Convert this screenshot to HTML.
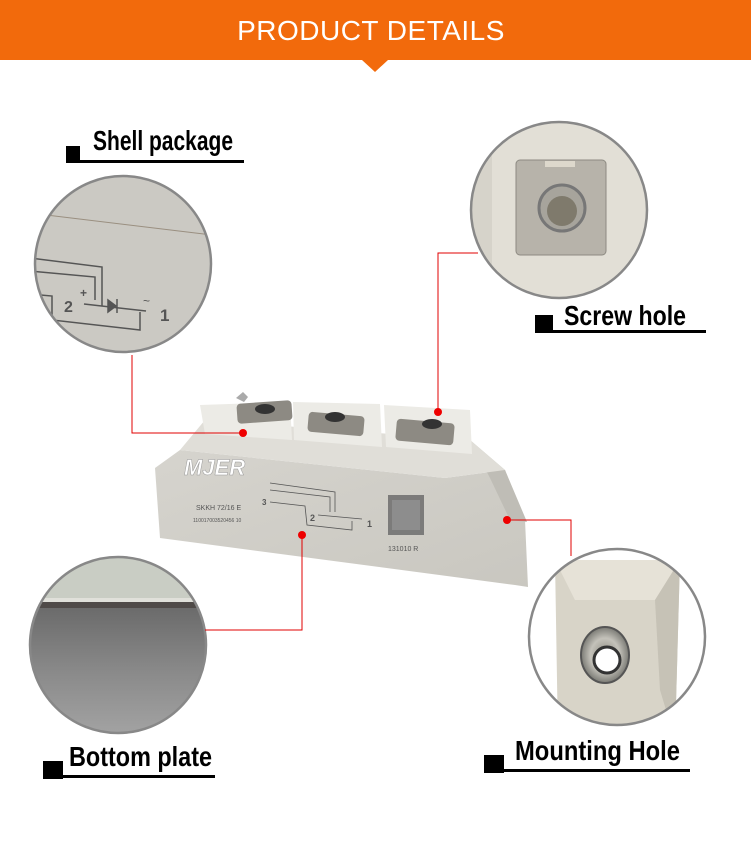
<!DOCTYPE html>
<html><head><meta charset="utf-8"><style>
html,body{margin:0;padding:0;background:#fff;width:751px;height:846px;overflow:hidden}
svg{display:block}
.lb{font-family:"Liberation Sans",sans-serif;font-weight:bold;font-size:28px;fill:#000}
</style></head><body>
<svg width="751" height="846" viewBox="0 0 751 846" xmlns="http://www.w3.org/2000/svg">
<defs>
<linearGradient id="metal" x1="0" y1="0" x2="0" y2="1"><stop offset="0" stop-color="#6b6b6b"/><stop offset="0.5" stop-color="#8a8a8a"/><stop offset="1" stop-color="#a4a4a4"/></linearGradient>
<linearGradient id="face" x1="0" y1="0" x2="1" y2="1"><stop offset="0" stop-color="#d6d4ce"/><stop offset="1" stop-color="#c9c7c0"/></linearGradient>
<radialGradient id="nut" cx="0.5" cy="0.5" r="0.5"><stop offset="0" stop-color="#8c8a80"/><stop offset="0.6" stop-color="#c4c2ba"/><stop offset="1" stop-color="#7a7a74"/></radialGradient>
<clipPath id="c1"><circle cx="123" cy="264" r="88"/></clipPath>
<clipPath id="c2"><circle cx="559" cy="210" r="88"/></clipPath>
<clipPath id="c3"><circle cx="118" cy="645" r="88"/></clipPath>
<clipPath id="c4"><circle cx="617" cy="637" r="88"/></clipPath>
</defs>
<rect x="0" y="0" width="751" height="60" fill="#f26a0c"/>
<polygon points="362,60 388,60 375,72" fill="#f26a0c"/>
<text x="371" y="40" text-anchor="middle" font-family="Liberation Sans,sans-serif" font-size="28" fill="#fff" letter-spacing="0.5">PRODUCT  DETAILS</text>

<g clip-path="url(#c1)">
<rect x="30" y="170" width="190" height="190" fill="#cbc9c3"/>
<line x1="30" y1="213" x2="220" y2="236" stroke="#9a8f80" stroke-width="1"/>
<g stroke="#555" stroke-width="1.5" fill="none">
<polyline points="30,258 102,267 102,306"/>
<polyline points="30,271 95,277 95,300"/>
<polyline points="30,294 52,296 52,320 140,330 140,312"/>
<line x1="84" y1="304" x2="146" y2="311"/>
<polygon points="108,300 108,312 116,306" fill="#555"/>
<line x1="117" y1="299" x2="117" y2="313"/>
</g>
<text x="64" y="312" font-family="Liberation Sans,sans-serif" font-weight="bold" font-size="16" fill="#555">2</text>
<text x="80" y="297" font-family="Liberation Sans,sans-serif" font-weight="bold" font-size="12" fill="#555">+</text>
<text x="143" y="305" font-family="Liberation Sans,sans-serif" font-size="12" fill="#555">~</text>
<text x="160" y="321" font-family="Liberation Sans,sans-serif" font-weight="bold" font-size="17" fill="#555">1</text>
</g>
<circle cx="123" cy="264" r="88" fill="none" stroke="#888" stroke-width="2.5"/>

<g clip-path="url(#c2)">
<rect x="460" y="110" width="200" height="200" fill="#e2dfd6"/>
<rect x="472" y="120" width="20" height="200" fill="#d6d3ca"/>
<rect x="516" y="160" width="90" height="95" rx="4" fill="#b7b3aa" stroke="#8d8a82"/>
<rect x="545" y="161" width="30" height="6" fill="#ddd8cc"/>
<circle cx="562" cy="208" r="23" fill="#a7a49c" stroke="#777" stroke-width="3"/>
<circle cx="562" cy="211" r="15" fill="#7f7a6c"/>
</g>
<circle cx="559" cy="210" r="88" fill="none" stroke="#888" stroke-width="2.5"/>

<g clip-path="url(#c3)">
<rect x="25" y="555" width="190" height="180" fill="#7e7e7e"/>
<rect x="25" y="555" width="190" height="44" fill="#c9cdc4"/>
<rect x="25" y="598" width="190" height="4" fill="#e0e0da"/>
<rect x="25" y="602" width="190" height="6" fill="#4f4a48"/>
<rect x="25" y="608" width="190" height="130" fill="url(#metal)"/>
</g>
<circle cx="118" cy="645" r="88" fill="none" stroke="#888" stroke-width="2.5"/>

<g clip-path="url(#c4)">
<rect x="525" y="545" width="185" height="185" fill="#fff"/>
<polygon points="555,560 680,560 675,740 558,740" fill="#d8d4c8"/>
<polygon points="555,560 680,560 655,600 575,600" fill="#e6e2d7"/>
<polygon points="680,560 675,740 660,690 655,600" fill="#c6c2b6"/>
<ellipse cx="605" cy="655" rx="24" ry="28" fill="url(#nut)" stroke="#555" stroke-width="2"/>
<circle cx="607" cy="660" r="13" fill="#fff" stroke="#333" stroke-width="3"/>
</g>
<circle cx="617" cy="637" r="88" fill="none" stroke="#888" stroke-width="2.5"/>

<g>
<polygon points="155,468 180,450 445,478 505,470 525,520 528,587 515,585 160,538" fill="url(#face)"/>
<polygon points="470,440 505,470 527,522 510,520 490,478" fill="#bfbdb6"/>
<polygon points="180,450 205,420 470,440 505,470 445,478" fill="#e0ded8"/>
<polygon points="200,405 290,402 292,440 205,434" fill="#ecebe6"/>
<polygon points="293,402 380,404 382,447 294,440" fill="#ecebe6"/>
<polygon points="384,405 470,410 472,454 386,447" fill="#ecebe6"/>
<polygon points="236,398 243,392 248,397 244,402" fill="#aaa"/>
<rect x="237" y="402" width="55" height="20" rx="4" fill="#8d8a83" transform="rotate(-4 264 412)"/>
<ellipse cx="265" cy="409" rx="10" ry="5" fill="#333"/>
<rect x="308" y="414" width="56" height="20" rx="4" fill="#8d8a83" transform="rotate(5 336 424)"/>
<ellipse cx="335" cy="417" rx="10" ry="5" fill="#333"/>
<rect x="396" y="421" width="58" height="22" rx="4" fill="#8d8a83" transform="rotate(5 425 432)"/>
<ellipse cx="432" cy="424" rx="10" ry="5" fill="#333"/>
<text x="184" y="475" font-family="Liberation Sans,sans-serif" font-weight="bold" font-style="italic" font-size="22" fill="#fff" stroke="#999" stroke-width="0.5">MJER</text>
<g font-family="Liberation Sans,sans-serif" fill="#555">
<text x="196" y="510" font-size="7">SKKH 72/16 E</text>
<text x="193" y="522" font-size="5">110017003520456 10</text>
<text x="388" y="551" font-size="7">131010 R</text>
<text x="262" y="505" font-size="8" font-weight="bold">3</text>
<text x="310" y="521" font-size="9" font-weight="bold">2</text>
<text x="367" y="527" font-size="9" font-weight="bold">1</text>
</g>
<g stroke="#555" stroke-width="0.8" fill="none">
<polyline points="270,483 335,492 335,512"/>
<polyline points="270,490 330,497 330,512"/>
<polyline points="270,502 305,506 307,525 352,530 352,521"/>
<line x1="318" y1="515" x2="362" y2="519"/>
</g>
<rect x="388" y="495" width="36" height="40" fill="#666" opacity="0.8"/>
<rect x="392" y="500" width="28" height="30" fill="#999" opacity="0.6"/>
</g>

<g stroke="#e00000" stroke-width="1" fill="none">
<polyline points="132,355 132,433 243,433"/>
<polyline points="438,412 438,253 478,253"/>
<polyline points="302,535 302,630 205,630"/>
<polyline points="507,520 571,520 571,556"/>
</g>
<g fill="#ee0000">
<circle cx="243" cy="433" r="4"/>
<circle cx="438" cy="412" r="4"/>
<circle cx="302" cy="535" r="4"/>
<circle cx="507" cy="520" r="4"/>
</g>

<rect x="66" y="146" width="14" height="16" fill="#000"/>
<rect x="66" y="160" width="178" height="3" fill="#000"/>
<text class="lb" x="93" y="150" textLength="140" lengthAdjust="spacingAndGlyphs">Shell package</text>

<rect x="535" y="315" width="18" height="18" fill="#000"/>
<rect x="535" y="330" width="171" height="3" fill="#000"/>
<text class="lb" x="564" y="325" textLength="122" lengthAdjust="spacingAndGlyphs">Screw hole</text>

<rect x="43" y="761" width="20" height="18" fill="#000"/>
<rect x="43" y="775" width="172" height="3" fill="#000"/>
<text class="lb" x="69" y="766" textLength="143" lengthAdjust="spacingAndGlyphs">Bottom plate</text>

<rect x="484" y="755" width="20" height="18" fill="#000"/>
<rect x="484" y="769" width="206" height="3" fill="#000"/>
<text class="lb" x="515" y="760" textLength="165" lengthAdjust="spacingAndGlyphs">Mounting Hole</text>
</svg>
</body></html>
